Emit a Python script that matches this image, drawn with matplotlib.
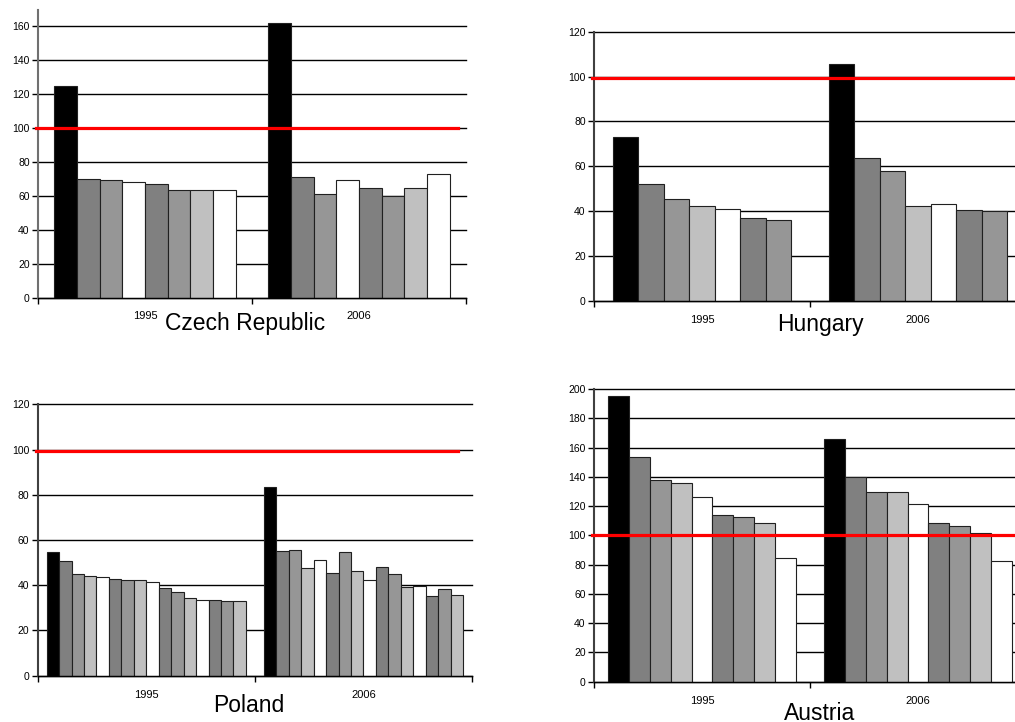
import matplotlib
matplotlib.use("Agg")
import matplotlib.pyplot as plt

plt.rcParams['font.family'] = ['Liberation Sans', 'DejaVu Sans']

W, H = 1015, 722

years = ['1995', '2006']

# gray shades used by the bars
BLK, DRK, MID, LGT, WHT = '#000000', '#808080', '#969696', '#C0C0C0', '#FFFFFF'

czech_1995 = [125.1, 70.0, 69.2, 68.0, 66.8, 63.4, 63.4, 63.4]
czech_2006 = [162.2, 71.1, 60.9, 69.2, 64.6, 60.1, 64.6, 73.1]
czech_colors = [BLK, DRK, MID, WHT, DRK, MID, LGT, WHT]

hungary_1995 = [73.0, 51.9, 45.5, 42.1, 41.0, 36.7, 35.8]
hungary_2006 = [105.4, 63.8, 57.8, 42.1, 43.1, 40.6, 40.0]
hungary_colors = [BLK, DRK, MID, LGT, WHT, DRK, MID]

poland_1995 = [54.7, 50.9, 45.1, 44.1, 43.5, 42.6, 42.2, 42.2,
               41.6, 38.6, 37.2, 34.4, 33.3, 33.5, 32.9, 32.9]
poland_2006 = [83.4, 55.3, 55.7, 47.5, 51.3, 45.6, 54.7, 46.4,
               42.2, 47.9, 45.1, 39.1, 39.7, 35.4, 38.2, 35.8]
poland_colors = [BLK] + [DRK, MID, LGT, WHT] * 3 + [DRK, MID, LGT]

austria_1995 = [195.4, 153.8, 138.0, 135.8, 126.2, 114.1, 112.8, 108.2, 84.7]
austria_2006 = [166.0, 139.6, 129.8, 129.8, 121.6, 108.2, 106.6, 101.6, 82.7]
austria_colors = [BLK, DRK, MID, LGT, WHT, DRK, MID, LGT, WHT]

# reference (EU = 100) lines
ref_czech, ref_hungary, ref_poland, ref_austria = 100, 99.2, 99.3, 100

fig = plt.figure(figsize=(W / 100, H / 100), dpi=100)


def px_axes(left, top, right, bottom):
    return fig.add_axes([left / W, 1 - bottom / H, (right - left) / W, (bottom - top) / H])


def panel(box, v1995, v2006, colors, ymax, ytop, ref, ref_end, group, title, tx, ty, spine='#404040'):
    ax = px_axes(*box)
    n = len(colors)
    bw = group / n
    for c, vals in enumerate([v1995, v2006]):
        start = c + 0.5 - group / 2
        xs = [start + bw * (i + 0.5) for i in range(n)]
        ax.bar(xs, vals, width=bw, color=colors, edgecolor='#202020', linewidth=0.8, zorder=2)
    ax.axhline(ref, xmin=-0.005, xmax=ref_end, color='#ff0000', lw=2.3, zorder=4, clip_on=False)
    ax.set_xlim(0, 2)
    ax.set_ylim(0, ymax)
    ax.set_yticks(range(0, ytop + 1, 20))
    ax.yaxis.grid(True, color='black', lw=1.0)
    for gl in ax.get_ygridlines():
        gl.set_clip_on(False)
    ax.set_axisbelow(True)
    ax.set_xticks([0, 1, 2])
    ax.set_xticklabels([])
    ax.set_xticks([0.5, 1.5], minor=True)
    ax.set_xticklabels(years, minor=True)
    ax.tick_params(axis='x', which='minor', length=0, pad=10, labelsize=8)
    ax.tick_params(axis='x', which='major', length=4, width=1, direction='out')
    ax.tick_params(axis='y', length=4, width=1, direction='out', labelsize=7.5, pad=2)
    for s in ['top', 'right']:
        ax.spines[s].set_visible(False)
    ax.spines['left'].set_color(spine)
    ax.spines['left'].set_linewidth(1.5)
    ax.spines['bottom'].set_color('black')
    ax.spines['bottom'].set_linewidth(1.0)
    fig.text(tx / W, 1 - ty / H, title, ha='center', va='baseline', fontsize=16.5)
    return ax


panel((38, 9.5, 466, 297.5), czech_1995, czech_2006, czech_colors, 170, 160,
      ref_czech, 0.981, 0.846, 'Czech Republic', 245, 330, spine='#707070')
panel((594, 31.7, 1026, 300.7), hungary_1995, hungary_2006, hungary_colors, 120, 120,
      ref_hungary, 0.97, 0.824, 'Hungary', 820, 331)
panel((37.7, 404.3, 472, 675.7), poland_1995, poland_2006, poland_colors, 120, 120,
      ref_poland, 0.968, 0.917, 'Poland', 249, 712)
panel((594, 389, 1026, 681.7), austria_1995, austria_2006, austria_colors, 200, 200,
      ref_austria, 0.97, 0.866, 'Austria', 820, 720)

fig.savefig('out.png', dpi=100)
